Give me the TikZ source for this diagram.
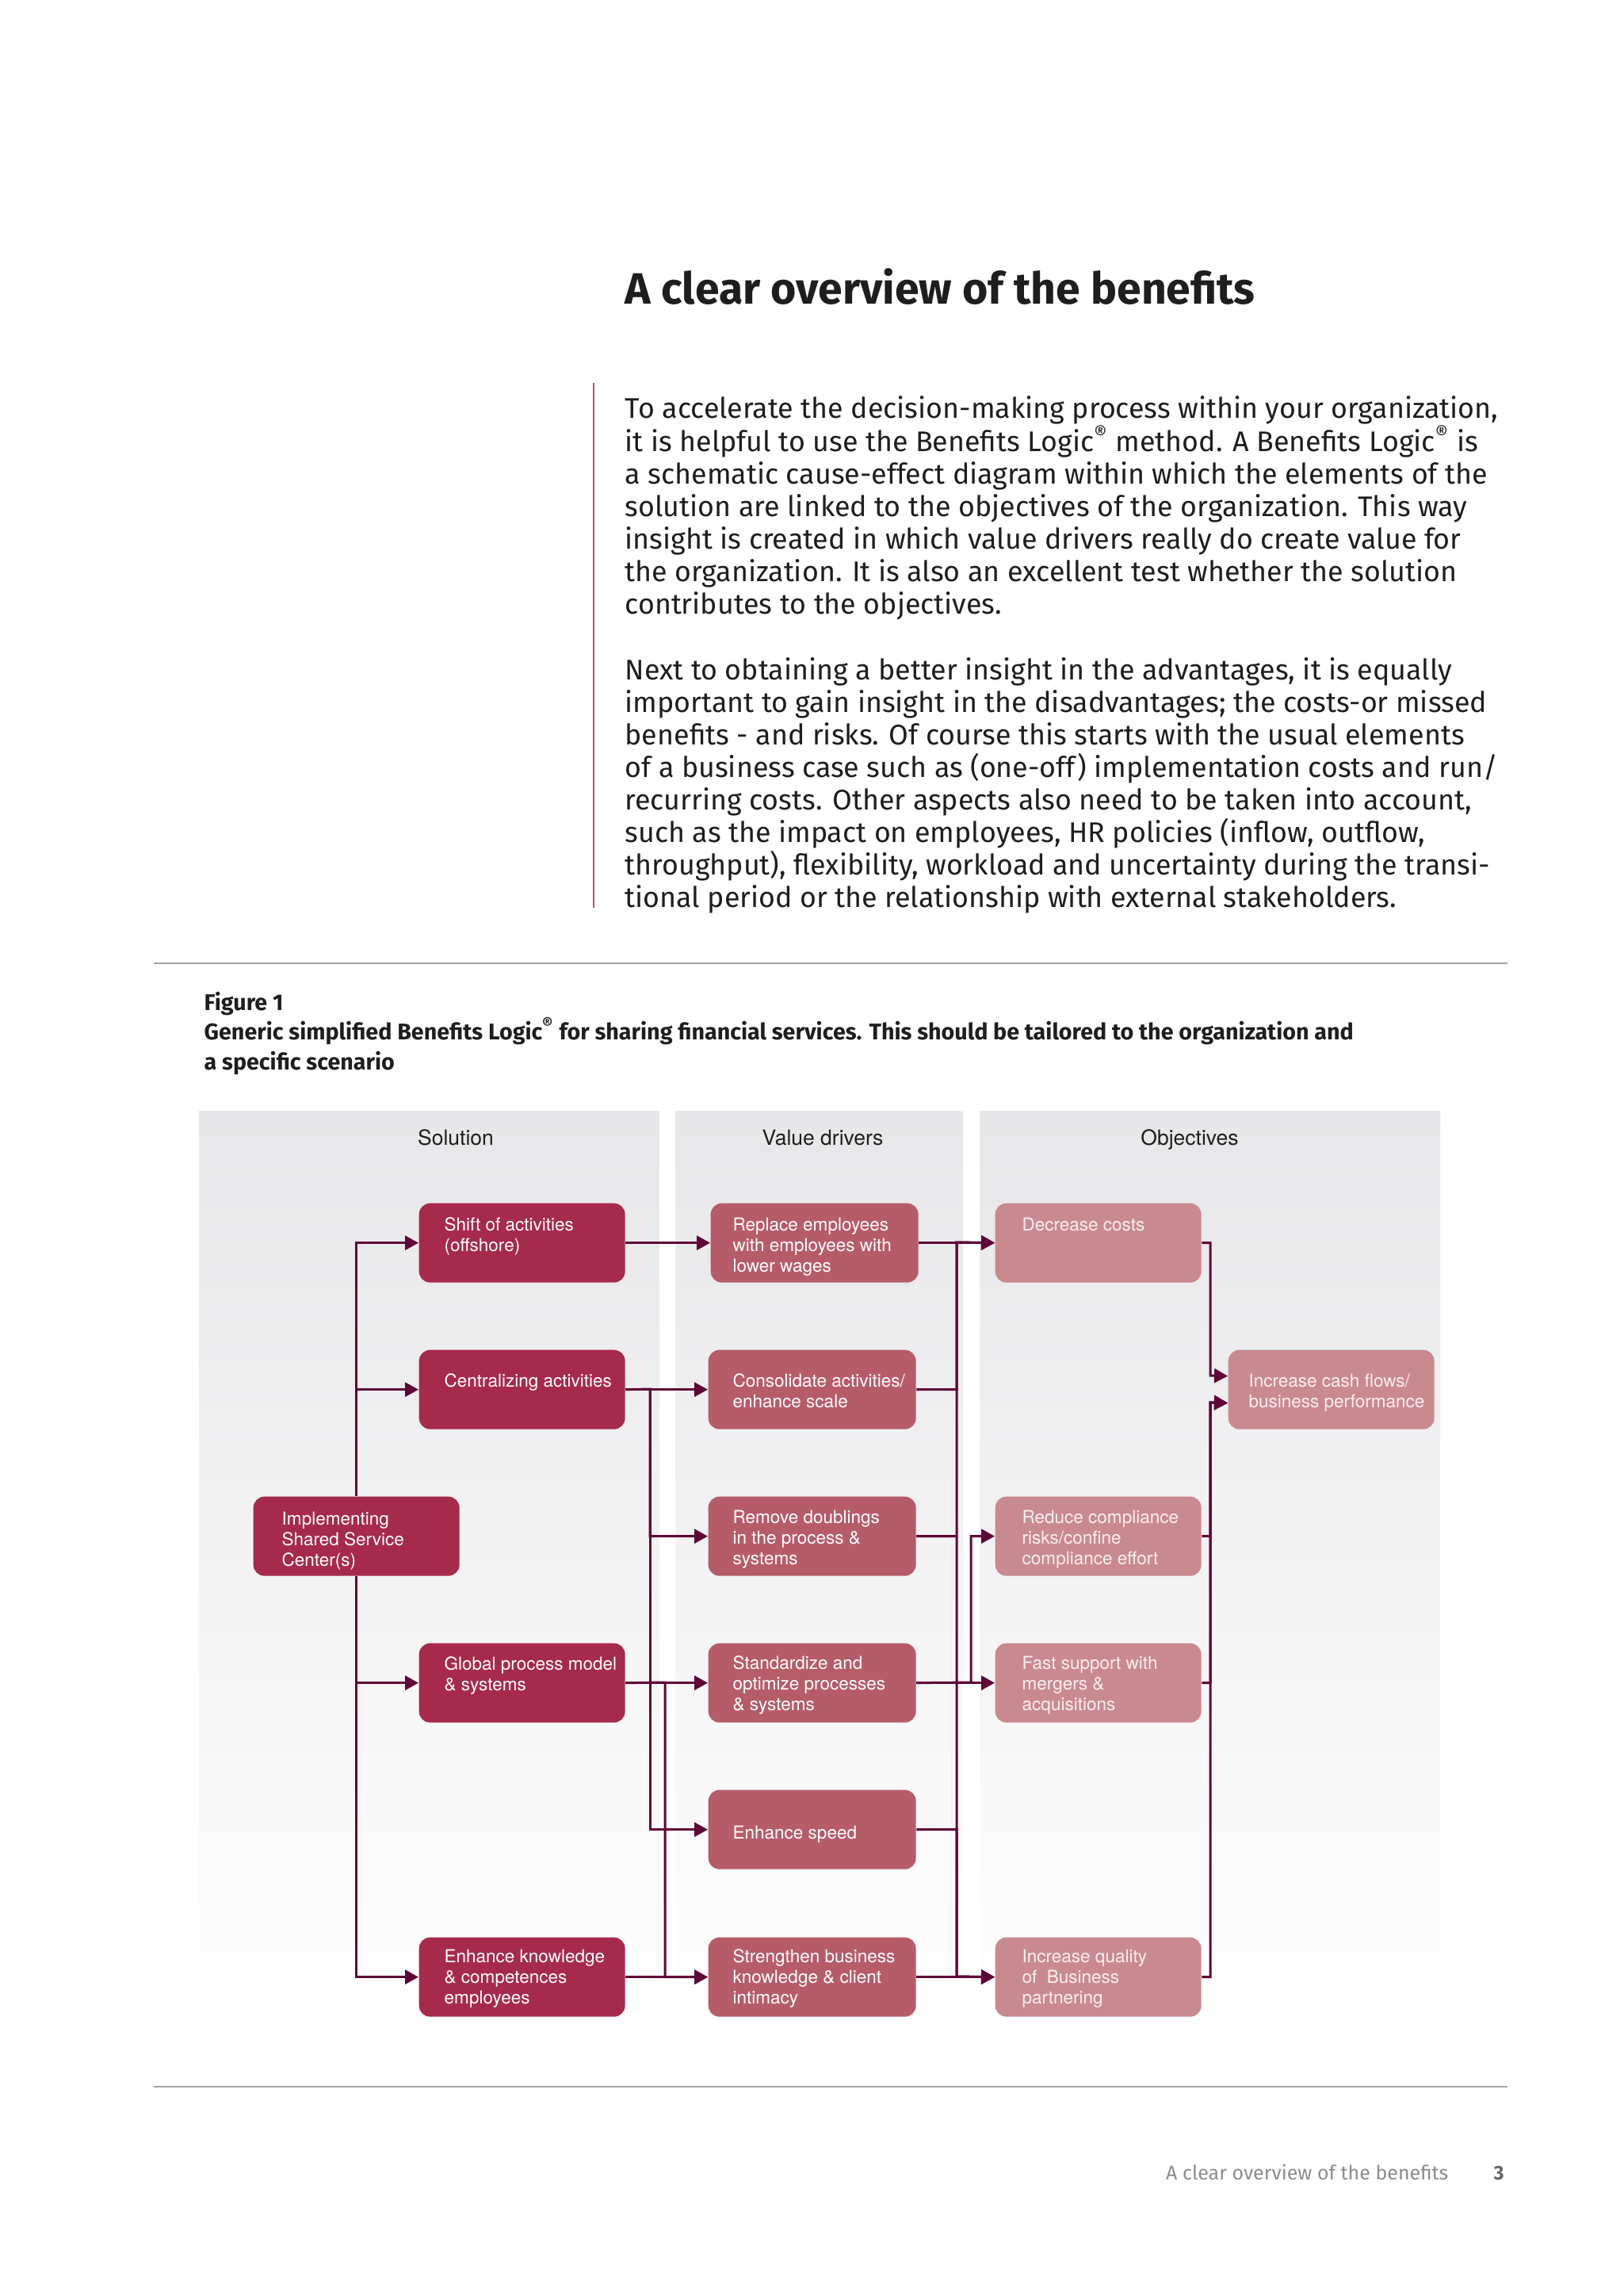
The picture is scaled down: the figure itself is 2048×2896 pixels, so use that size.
\documentclass[tikz,border=0pt]{standalone}
\usepackage{fontspec}
\setmainfont{Fira Sans}
\newfontfamily\heros{TeX Gyre Heros}
\usetikzlibrary{arrows.meta,calc}
\definecolor{solfill}{HTML}{A62A4C}
\definecolor{vdfill}{HTML}{B65C69}
\definecolor{objfill}{HTML}{C98A8F}
\definecolor{conn}{HTML}{5E0638}
\definecolor{panel}{HTML}{E7E7E9}
\definecolor{rulegray}{HTML}{A3A3A3}
\definecolor{redrule}{HTML}{B4546C}
\definecolor{ink}{HTML}{1E1E1E}
\definecolor{foot}{HTML}{8C8C8C}
\definecolor{pagenum}{HTML}{666666}
\definecolor{objtext}{HTML}{FBEFF0}
% box text: width, indent, first-baseline offset, text
\newcommand\btext[4]{\parbox[c][30pt][t]{#1}{\leftskip=#2\rightskip=0pt plus 1fil\relax\rule{0pt}{#3}#4}}
\newcommand\titlefnt{\fontsize{16.6}{19}\selectfont\bfseries}
\newcommand\bodyfnt{\fontsize{10.75}{12.33}\selectfont}
\newcommand\capfnt{\fontsize{8.6}{11.25}\selectfont\bfseries}
\newcommand\headfnt{\heros\fontsize{7.95}{9}\selectfont}
\newcommand\boxfnt{\heros\fontsize{6.75}{7.74}\selectfont}
\newcommand\footfnt{\fontsize{7.5}{9}\selectfont}
\begin{document}
\begin{tikzpicture}[x=0.3pt,y=-0.3pt,
  box/.style={anchor=north west, inner sep=0pt, rounded corners=4.2pt, text=white, font=\boxfnt},
  solbox/.style={box, fill=solfill},
  vdbox/.style={box, fill=vdfill},
  objbox/.style={box, fill=objfill, text=objtext},
  arr/.style={draw=conn, line width=0.9pt, -{Triangle[length=5.1pt,width=5.4pt]}},
  head/.style={anchor=base, inner sep=0pt, font=\headfnt, text=ink}]
\useasboundingbox (0,0) rectangle (2048,2896);
\fill[white] (0,0) rectangle (2048,2896);

% ---- text part of the page ----
\node[anchor=base west, inner sep=0pt, font=\titlefnt, text=ink] (title) at (788,384) {A clear overview of the benefits};
\draw[redrule, line width=0.6pt] (749,483) -- (749,1145);
\node[anchor=base west, inner sep=0pt, font=\bodyfnt, text=ink] (p1) at (788,528) {\parbox[t]{440pt}{%
To accelerate the decision-making process within your organization,\\
it is helpful to use the Benefits Logic\textsuperscript{®} method. A Benefits Logic\textsuperscript{®} is\\
a schematic cause-effect diagram within which the elements of the\\
solution are linked to the objectives of the organization. This way\\
insight is created in which value drivers really do create value for\\
the organization. It is also an excellent test whether the solution\\
contributes to the objectives.}};
\node[anchor=base west, inner sep=0pt, font=\bodyfnt, text=ink] (p2) at (788,857) {\parbox[t]{440pt}{%
Next to obtaining a better insight in the advantages, it is equally\\
important to gain insight in the disadvantages; the costs-or missed\\
benefits - and risks. Of course this starts with the usual elements\\
of a business case such as (one-off) implementation costs and run/\\
recurring costs. Other aspects also need to be taken into account,\\
such as the impact on employees, HR policies (inflow, outflow,\\
throughput), flexibility, workload and uncertainty during the transi-\\
tional period or the relationship with external stakeholders.}};

\draw[rulegray, line width=0.6pt] (194,1215) -- (1902,1215);
\draw[rulegray, line width=0.6pt] (194,2632) -- (1902,2632);

\node[anchor=base west, inner sep=0pt, font=\capfnt, text=ink] (cap) at (257,1274) {\parbox[t]{560pt}{%
Figure 1\\
Generic simplified Benefits Logic\textsuperscript{®} for sharing financial services. This should be tailored to the organization and\\
a specific scenario}};

% ---- panels ----
\shade[top color=panel, bottom color=white] (251,1401) rectangle (832,2575);
\shade[top color=panel, bottom color=white] (852,1401) rectangle (1215,2575);
\shade[top color=panel, bottom color=white] (1236,1401) rectangle (1817,2575);
\node[head] (hsol) at (575,1444) {Solution};
\node[head] (hvd) at (1038,1444) {Value drivers};
\node[head] (hobj) at (1501,1444) {Objectives};

% ---- solution ----
\node[solbox] (impl) at (319,1887) {\btext{78pt}{10.8pt}{10.8pt}{Implementing\\Shared Service\\Center(s)}};
\node[solbox] (shift) at (528,1517) {\btext{78pt}{9.6pt}{10.5pt}{Shift of activities\\(offshore)}};
\node[solbox] (central) at (528,1702) {\btext{78pt}{9.6pt}{14.1pt}{Centralizing activities}};
\node[solbox] (global) at (528,2072) {\btext{78pt}{9.6pt}{10.2pt}{Global process model\\\& systems}};
\node[solbox] (enhk) at (528,2443) {\btext{78pt}{9.6pt}{9.6pt}{Enhance knowledge\\\& competences\\employees}};

% ---- value drivers ----
\node[vdbox] (repl) at (896,1517) {\btext{78.6pt}{8.4pt}{10.5pt}{Replace employees\\with employees with\\lower wages}};
\node[vdbox] (cons) at (893,1702) {\btext{78.6pt}{9.3pt}{14.1pt}{Consolidate activities/\\enhance scale}};
\node[vdbox] (remv) at (893,1887) {\btext{78.6pt}{9.3pt}{10.2pt}{Remove doublings\\in the process \&\\systems}};
\node[vdbox] (stdz) at (893,2072) {\btext{78.6pt}{9.3pt}{9.9pt}{Standardize and\\optimize processes\\\& systems}};
\node[vdbox] (speed) at (893,2257) {\btext{78.6pt}{9.3pt}{18.6pt}{Enhance speed}};
\node[vdbox] (strg) at (893,2443) {\btext{78.6pt}{9.3pt}{9.6pt}{Strengthen business\\knowledge \& client\\intimacy}};

% ---- objectives ----
\node[objbox] (decr) at (1255,1517) {\btext{78pt}{10.2pt}{10.5pt}{Decrease costs}};
\node[objbox] (cash) at (1549,1702) {\btext{78pt}{7.8pt}{14.1pt}{Increase cash flows/\\business performance}};
\node[objbox] (reduce) at (1255,1887) {\btext{78pt}{10.2pt}{10.2pt}{Reduce compliance\\risks/confine\\compliance effort}};
\node[objbox] (fast) at (1255,2072) {\btext{78pt}{10.2pt}{9.9pt}{Fast support with\\mergers \&\\acquisitions}};
\node[objbox] (incq) at (1255,2443) {\btext{78pt}{10.2pt}{9.6pt}{Increase quality\\of\ \ Business\\partnering}};

% ---- junction coordinates ----
\coordinate (ja) at (820,1752);
\coordinate (jb) at (839,2122);
\coordinate (bus1) at (1207,1567);
\coordinate (bus2) at (1207,2493);
\coordinate (jc) at (1225,2122);
\coordinate (cin1) at ($(cash.west)+(0,-17)$);
\coordinate (cin2) at ($(cash.west)+(0,17)$);
\coordinate (k1) at (1527,1735);
\coordinate (k2) at (1527,1769);

% ---- connectors: solution ----
\draw[arr] (impl.north) |- (shift.west);
\draw[arr] (impl.north) |- (central.west);
\draw[arr] (impl.south) |- (global.west);
\draw[arr] (impl.south) |- (enhk.west);

% ---- connectors: solution -> value drivers ----
\draw[arr] (shift.east) -- (repl.west);
\draw[arr] (central.east) -- (cons.west);
\draw[arr] (central.east) -- (ja) |- (remv.west);
\draw[arr] (ja) |- (speed.west);
\draw[arr] (global.east) -- (stdz.west);
\draw[arr] (global.east) -- (jb) |- (strg.west);
\draw[arr] (enhk.east) -- (strg.west);

% ---- connectors: value drivers -> objectives ----
\draw[arr] (repl.east) -- (decr.west);
\draw[arr] (cons.east) -| (bus1) -- (decr.west);
\draw[arr] (remv.east) -| (bus1) -- (decr.west);
\draw[arr] (remv.east) -| (bus2) -- (incq.west);
\draw[arr] (speed.east) -| (bus2) -- (incq.west);
\draw[arr] (strg.east) -- (incq.west);
\draw[arr] (stdz.east) -- (fast.west);
\draw[arr] (stdz.east) -- (jc) |- (reduce.west);

% ---- connectors: objectives -> cash flows ----
\draw[arr] (decr.east) -| (k1) -- (cin1);
\draw[arr] (reduce.east) -| (k2) -- (cin2);
\draw[arr] (fast.east) -| (k2) -- (cin2);
\draw[arr] (incq.east) -| (k2) -- (cin2);

% ---- footer ----
\node[anchor=base east, inner sep=0pt, font=\footfnt, text=foot] (foot) at (1828,2749) {A clear overview of the benefits};
\node[anchor=base, inner sep=0pt, font=\footfnt\bfseries, text=pagenum] (pg) at (1891,2749) {3};
\end{tikzpicture}
\end{document}
